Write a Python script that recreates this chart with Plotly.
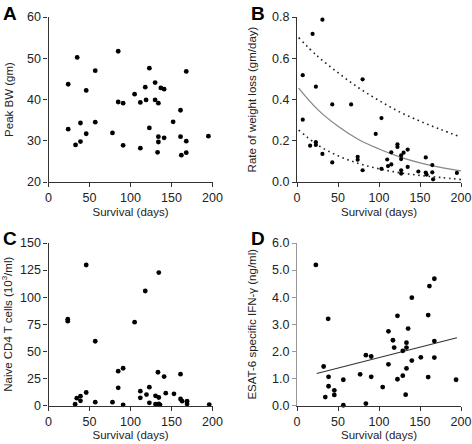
import plotly.graph_objects as go

# ---------------- Data ----------------
# Panel A: Peak BW vs survival
a_surv = [24, 35, 24, 33, 39, 39, 46, 46, 57, 57, 78, 85, 85, 91, 91, 105, 112, 112,
          118, 119, 123, 123, 130, 130, 134, 137, 141, 134, 134, 141, 133, 152, 161,
          161, 162, 168, 168, 168, 195]
a_bw = [43.7, 50.2, 32.8, 29.0, 29.8, 34.3, 42.2, 31.7, 47.0, 34.5, 31.9, 51.7, 39.4,
        39.1, 28.9, 41.3, 39.3, 28.2, 43.0, 39.9, 47.6, 33.1, 44.1, 39.9, 39.1, 42.8,
        42.5, 31.0, 29.7, 30.7, 27.2, 34.6, 37.4, 31.0, 26.5, 46.8, 29.9, 27.1, 31.1]

# Panel B: rate of weight loss vs survival
b_surv = [7, 7, 19, 31, 23, 16, 23, 23, 31, 43, 43, 66, 74, 74, 80, 80, 96, 103, 103,
          110, 111, 115, 115, 122.5, 122.5, 127, 127, 127, 127, 130, 135, 135, 148,
          157, 157, 158, 165, 165, 166, 195]
b_rate = [0.518, 0.302, 0.718, 0.787, 0.462, 0.176, 0.193, 0.180, 0.136, 0.376, 0.095,
          0.376, 0.122, 0.108, 0.498, 0.057, 0.233, 0.310, 0.064, 0.109, 0.077, 0.144,
          0.085, 0.183, 0.170, 0.129, 0.111, 0.057, 0.041, 0.142, 0.157, 0.073, 0.051,
          0.119, 0.046, 0.036, 0.082, 0.047, 0.013, 0.044]
# fitted curve and its bands
b_curve_x = [2, 25, 50, 75, 100, 125, 150, 175, 200]
b_fit = [0.455, 0.352, 0.270, 0.206, 0.160, 0.122, 0.093, 0.071, 0.054]
b_upper = [0.700, 0.610, 0.530, 0.457, 0.395, 0.340, 0.295, 0.255, 0.218]
b_lower = [0.252, 0.180, 0.127, 0.090, 0.064, 0.045, 0.032, 0.022, 0.012]

# Panel C: naive CD4 T cells vs survival
c_surv = [23.5, 23.5, 32.5, 34.5, 39, 39, 46, 46, 57, 57, 78, 85, 85, 91, 91, 105,
          112, 112, 118, 119.5, 123, 123, 130.5, 130.5, 134.5, 134.5, 133.5, 134.5,
          136, 143, 141, 153, 161, 161, 163, 169, 169, 196]
c_cells = [79.6, 77.8, 1.2, 6.8, 8.6, 4.3, 129.7, 12.0, 59.3, 3.1, 3.1, 31.7, 16.3,
           34.4, 0.6, 76.9, 13.2, 7.1, 105.7, 10.1, 16.9, 2.5, 8.9, 1.2, 7.4, 1.5,
           30.7, 122.7, 0.6, 11.4, 26.7, 10.8, 28.9, 6.1, 4.0, 4.0, 1.5, 0.9]

# Panel D: ESAT-6 specific IFN-gamma vs survival
d_surv = [23, 32.5, 34.5, 38, 38.5, 38.5, 45.5, 45.5, 56.5, 56.5, 77, 84, 84, 90.5,
          90.5, 104.5, 111.5, 111.5, 117, 118.5, 122.5, 122.5, 129, 129, 132.5, 133.5,
          133.5, 133.5, 135.5, 140, 140, 151, 160, 160, 161.5, 167.5, 167.5, 167.5, 194]
d_ifn = [5.19, 1.44, 0.31, 3.20, 1.06, 0.71, 0.56, 0.39, 0.95, 0.01, 1.15, 1.86, 0.07,
         1.81, 1.06, 0.68, 2.74, 1.52, 2.41, 2.14, 3.31, 0.97, 2.02, 1.10, 0.40, 2.32,
         2.14, 1.37, 2.84, 3.98, 1.66, 1.78, 3.34, 1.05, 4.41, 4.68, 2.38, 1.77, 0.95]
d_line_x = [24, 195]
d_line_y = [1.18, 2.50]

# ---------------- Layout helpers ----------------
W, H = 472, 444
FONT = "Liberation Sans, Arial, sans-serif"

def px_x(a, b):
    return [a / W, b / W]

def px_y(top, bottom):
    return [1 - bottom / H, 1 - top / H]

fig = go.Figure()

marker = dict(color="black", size=4.8)
dotted = dict(color="#222", width=1.6, dash="1.6px,3.6px", shape="spline")

fig.add_trace(go.Scatter(x=a_surv, y=a_bw, mode="markers", marker=marker,
                         xaxis="x", yaxis="y", cliponaxis=False))
fig.add_trace(go.Scatter(x=b_curve_x, y=b_upper, mode="lines", line=dotted,
                         xaxis="x2", yaxis="y2"))
fig.add_trace(go.Scatter(x=b_curve_x, y=b_lower, mode="lines", line=dotted,
                         xaxis="x2", yaxis="y2"))
fig.add_trace(go.Scatter(x=b_curve_x, y=b_fit, mode="lines", line=dict(color="#888", width=1.3, shape="spline"),
                         xaxis="x2", yaxis="y2"))
fig.add_trace(go.Scatter(x=b_surv, y=b_rate, mode="markers", marker=dict(color="black", size=4.2),
                         xaxis="x2", yaxis="y2", cliponaxis=False))
fig.add_trace(go.Scatter(x=c_surv, y=c_cells, mode="markers", marker=marker,
                         xaxis="x3", yaxis="y3", cliponaxis=False))
fig.add_trace(go.Scatter(x=d_line_x, y=d_line_y, mode="lines", line=dict(color="#333", width=1.2),
                         xaxis="x4", yaxis="y4"))
fig.add_trace(go.Scatter(x=d_surv, y=d_ifn, mode="markers", marker=marker,
                         xaxis="x4", yaxis="y4", cliponaxis=False))

tickfont = dict(family=FONT, size=12.5, color="#222")
titlefont = dict(family=FONT, size=11.5, color="#222")

def xax(domain, anchor):
    return dict(domain=domain, anchor=anchor, range=[0, 200], tickvals=[0, 50, 100, 150, 200],
                showline=True, linecolor="#333", linewidth=1.2, ticks="outside", ticklen=4,
                tickcolor="#333", showgrid=False, zeroline=False, tickfont=tickfont,
                automargin=False,
                title=dict(text="Survival (days)", font=titlefont, standoff=3))

def yax(domain, anchor, rng, tv, title, fmt=None, color="#333", standoff=10):
    d = dict(domain=domain, anchor=anchor, range=rng, tickvals=tv, showline=True,
             linecolor=color, linewidth=1.2, ticks="outside", ticklen=4, tickcolor=color,
             showgrid=False, zeroline=False, tickfont=tickfont, automargin=False,
             title=dict(text=title, font=titlefont, standoff=standoff))
    if fmt:
        d["tickformat"] = fmt
    return d

xA, xB = px_x(48.5, 212.5), px_x(297, 461)
yTop, yBot = px_y(17, 182), px_y(243, 405.5)

fig.update_layout(
    width=W, height=H, margin=dict(l=0, r=0, t=0, b=0, autoexpand=False),
    paper_bgcolor="white", plot_bgcolor="white", showlegend=False,
    font=dict(family=FONT),
    xaxis=xax(xA, "y"),
    yaxis=yax(yTop, "x", [20, 60], [20, 30, 40, 50, 60], "Peak BW (gm)"),
    xaxis2=xax(xB, "y2"),
    yaxis2=yax(yTop, "x2", [0, 0.8], [0, 0.2, 0.4, 0.6, 0.8], "Rate of weight loss (gm/day)", ".1f", standoff=12),
    xaxis3=xax(xA, "y3"),
    yaxis3=yax(yBot, "x3", [0, 150], [0, 25, 50, 75, 100, 125, 150], "Naive CD4 T cells (10<sup>3</sup>/ml)"),
    xaxis4=xax(xB, "y4"),
    yaxis4=yax(yBot, "x4", [0, 6], [0, 1, 2, 3, 4, 5, 6], "ESAT-6 specific IFN-γ (ng/ml)", ".1f", color="#999", standoff=12),
)

letters = [("A", 1, 1), ("B", 249, 1), ("C", 1, 226), ("D", 249, 226)]
for txt, x0, y0 in letters:
    fig.add_annotation(text=f"<b>{txt}</b>", xref="paper", yref="paper",
                       x=x0 / W, y=1 - y0 / H, xanchor="left", yanchor="top",
                       showarrow=False, font=dict(family=FONT, size=19, color="black"))

fig.write_html("out.html", config={"displayModeBar": False},
               post_script="document.body.style.margin='0';document.body.style.overflow='hidden';")
